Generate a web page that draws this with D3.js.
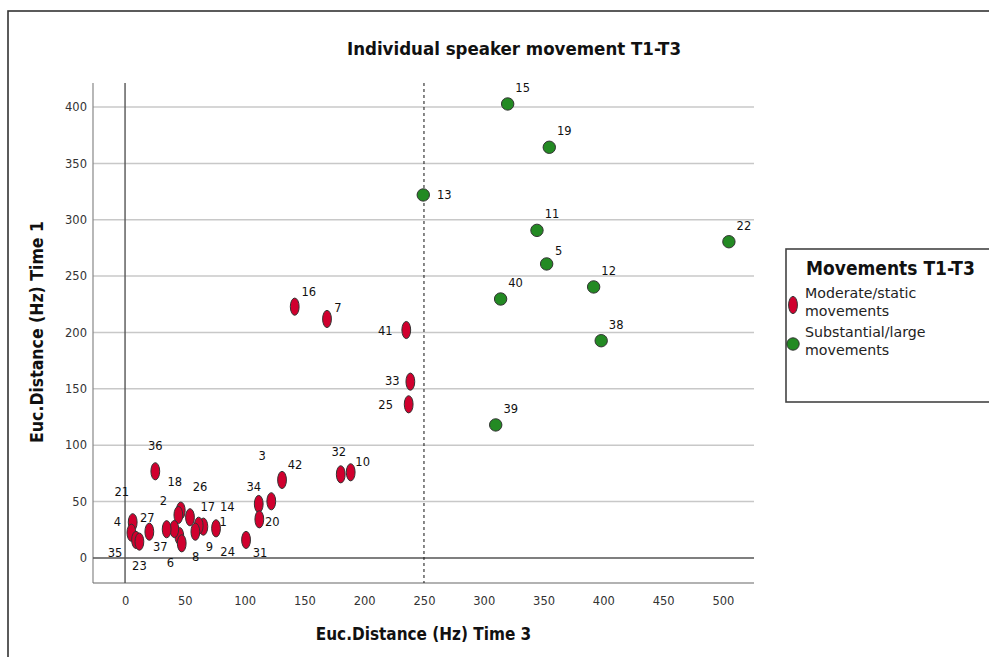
<!DOCTYPE html>
<html>
<head>
<meta charset="utf-8">
<script src="https://cdn.jsdelivr.net/npm/d3@7"></script>
<style>
  html, body { margin: 0; padding: 0; background: #fff; }
  svg { display: block; }
</style>
</head>
<body>
<svg id="chart" width="989" height="657"></svg>
<script>
// ---- data ----
const speakerIds = [15, 19, 13, 11, 22, 5, 12, 40, 38, 39,
  16, 7, 41, 33, 25, 32, 10,
  36, 42, 3, 34, 20, 31, 1, 14, 17, 9, 26, 18, 2, 6, 8, 37, 24, 27, 21, 4, 35, 23];
const distTime3 = [320, 354.8, 249.4, 344.5, 505, 352.6, 391.9, 314.1, 398.2, 310,
  141.9, 168.9, 235.2, 238.6, 237.2, 180.4, 188.7,
  25.3, 131.3, 122.3, 111.8, 112.3, 101.2, 76.1, 65.5, 61.6, 58.8, 54.3, 46.6, 44.6, 45.4, 47.4, 41.2, 34.8, 20.3, 6.4, 5.3, 9.2, 12];
const distTime1 = [402.7, 364.3, 322, 290.6, 280.5, 260.8, 240.4, 229.7, 192.7, 118,
  222.9, 212, 202.2, 156.4, 136.3, 74.2, 76,
  76.9, 69.2, 50.3, 47.9, 34.3, 16, 26.3, 27.8, 28.6, 23.3, 36.1, 42, 38.1, 19.5, 13, 25.7, 25.5, 23.3, 31.7, 22.4, 16, 14.5];
const groupNames = ["Moderate/static movements", "Substantial/large movements"];
const groupOf = [1, 1, 1, 1, 1, 1, 1, 1, 1, 1,
  0, 0, 0, 0, 0, 0, 0,
  0, 0, 0, 0, 0, 0, 0, 0, 0, 0, 0, 0, 0, 0, 0, 0, 0, 0, 0, 0, 0, 0];
const xTicks = [0, 50, 100, 150, 200, 250, 300, 350, 400, 450, 500];
const yTicks = [0, 50, 100, 150, 200, 250, 300, 350, 400];
const cutoffTime3 = 250;

const chartTitle = "Individual speaker movement T1-T3";
const xTitle = "Euc.Distance (Hz) Time 3";
const yTitle = "Euc.Distance (Hz) Time 1";
const legendTitle = "Movements T1-T3";
const legendLines = [["Moderate/static", "movements"], ["Substantial/large", "movements"]];

// ---- layout / styles ----
const labelOffset = {  // pixel offset of label centre from marker
  13: [21, 0], 5: [12, -13],
  16: [14, -15], 7: [11, -11], 41: [-21, 1], 33: [-18, -1], 25: [-23, 1],
  32: [-2, -22], 10: [12, -10],
  36: [0, -25], 42: [13, -15], 3: [-9, -45], 34: [-5, -17], 20: [13, 3], 31: [14, 13],
  1: [7, -6], 14: [24, -20], 17: [9, -19], 9: [14, 15], 26: [10, -30], 18: [-6, -29],
  2: [-15, -14], 6: [-9, 27], 8: [14, 14], 37: [-14, 18], 24: [61, 23], 27: [-2, -14],
  21: [-11, -30], 4: [-14, -11], 35: [-21, 13], 23: [0, 24]
};
const defaultOffset = [15, -16];
const colors = ["#d0002e", "#238a23"];
const fontCond = "'DejaVu Sans Condensed', 'DejaVu Sans', sans-serif";
const fontReg = "'DejaVu Sans', sans-serif";

const svg = d3.select("#chart");
const plot = { left: 93, right: 754, top: 83, bottom: 583 };

const x = d3.scaleLinear().domain([-26.8, 526]).range([plot.left, plot.right]);
const y = d3.scaleLinear().domain([-22.2, 421.3]).range([plot.bottom, plot.top]);

// outer frame
svg.append("rect").attr("x", 8).attr("y", 11).attr("width", 1000).attr("height", 700)
  .attr("fill", "none").attr("stroke", "#333").attr("stroke-width", 1.6);

// title
svg.append("text").attr("x", 514).attr("y", 55).attr("text-anchor", "middle")
  .attr("font-family", fontCond).attr("font-weight", "bold").attr("font-size", 18.5)
  .attr("fill", "#111").text(chartTitle);

// gridlines
const g = svg.append("g");
g.selectAll("line.grid").data(yTicks.filter(d => d !== 0)).join("line")
  .attr("x1", plot.left).attr("x2", plot.right)
  .attr("y1", d => y(d)).attr("y2", d => y(d))
  .attr("stroke", "#c8c8c8").attr("stroke-width", 1.5);

// y axis tick labels via d3 axis
const yAxis = d3.axisLeft(y).tickValues(yTicks).tickSize(0).tickPadding(6);
const yg = svg.append("g").attr("transform", `translate(${plot.left},0)`).call(yAxis);
yg.select(".domain").remove();
yg.selectAll("text").attr("font-family", fontReg).attr("font-size", 11.5).attr("fill", "#333");

const xAxis = d3.axisBottom(x).tickValues(xTicks).tickSize(0).tickPadding(14);
const xg = svg.append("g").attr("transform", `translate(0,${plot.bottom})`).call(xAxis);
xg.select(".domain").remove();
xg.selectAll("text").attr("font-family", fontReg).attr("font-size", 11.5).attr("fill", "#333");

// frame left & bottom
svg.append("line").attr("x1", plot.left).attr("x2", plot.left).attr("y1", plot.top).attr("y2", plot.bottom)
  .attr("stroke", "#888").attr("stroke-width", 1.2);
svg.append("line").attr("x1", plot.left).attr("x2", plot.right).attr("y1", plot.bottom).attr("y2", plot.bottom)
  .attr("stroke", "#666").attr("stroke-width", 1.2);

// zero reference lines
svg.append("line").attr("x1", x(0)).attr("x2", x(0)).attr("y1", plot.top).attr("y2", plot.bottom)
  .attr("stroke", "#555").attr("stroke-width", 1.4);
svg.append("line").attr("x1", plot.left).attr("x2", plot.right).attr("y1", y(0)).attr("y2", y(0))
  .attr("stroke", "#555").attr("stroke-width", 1.4);

// cutoff dashed line
svg.append("line").attr("x1", x(cutoffTime3)).attr("x2", x(cutoffTime3)).attr("y1", plot.top).attr("y2", plot.bottom)
  .attr("stroke", "#111").attr("stroke-width", 1).attr("stroke-dasharray", "3,3");

// axis titles
svg.append("text").attr("x", (plot.left + plot.right) / 2).attr("y", 640).attr("text-anchor", "middle")
  .attr("font-family", fontCond).attr("font-weight", "bold").attr("font-size", 17)
  .attr("fill", "#111").text(xTitle);
svg.append("text").attr("transform", `translate(43,332) rotate(-90)`).attr("text-anchor", "middle")
  .attr("font-family", fontCond).attr("font-weight", "bold").attr("font-size", 17.5)
  .attr("fill", "#111").text(yTitle);

// points
const pts = speakerIds.map((id, i) => ({ id, t3: distTime3[i], t1: distTime1[i], grp: groupOf[i] }));
const mg = svg.append("g");
mg.selectAll("ellipse").data(pts.filter(p => p.grp === 0)).join("ellipse")
  .attr("cx", d => x(d.t3)).attr("cy", d => y(d.t1)).attr("rx", 4.4).attr("ry", 8.6)
  .attr("fill", colors[0]).attr("stroke", "#333").attr("stroke-width", 1);
mg.selectAll("circle").data(pts.filter(p => p.grp === 1)).join("circle")
  .attr("cx", d => x(d.t3)).attr("cy", d => y(d.t1)).attr("r", 6.2)
  .attr("fill", colors[1]).attr("stroke", "#333").attr("stroke-width", 1);

// labels
svg.append("g").selectAll("text").data(pts).join("text")
  .attr("x", d => x(d.t3) + (labelOffset[d.id] || defaultOffset)[0])
  .attr("y", d => y(d.t1) + (labelOffset[d.id] || defaultOffset)[1])
  .attr("dy", "0.35em").attr("text-anchor", "middle")
  .attr("font-family", fontReg).attr("font-size", 11.5).attr("fill", "#111")
  .text(d => d.id);

// legend
const lg = svg.append("g");
lg.append("rect").attr("x", 786).attr("y", 249).attr("width", 260).attr("height", 153)
  .attr("fill", "#fff").attr("stroke", "#444").attr("stroke-width", 1.6);
lg.append("text").attr("x", 806).attr("y", 275)
  .attr("font-family", fontCond).attr("font-weight", "bold").attr("font-size", 19)
  .attr("fill", "#111").text(legendTitle);
const itemY = [305, 344];
groupNames.forEach((name, i) => {
  if (i === 0) {
    lg.append("ellipse").attr("cx", 793).attr("cy", itemY[i]).attr("rx", 4.4).attr("ry", 8.6)
      .attr("fill", colors[0]).attr("stroke", "#333");
  } else {
    lg.append("circle").attr("cx", 793).attr("cy", itemY[i]).attr("r", 6.2)
      .attr("fill", colors[1]).attr("stroke", "#333");
  }
  const t = lg.append("text").attr("x", 805).attr("y", itemY[i] - 7)
    .attr("font-family", fontReg).attr("font-size", 14.2).attr("fill", "#222");
  legendLines[i].forEach((ln, j) => {
    t.append("tspan").attr("x", 805).attr("dy", j === 0 ? 0 : 18).text(ln);
  });
});
</script>
</body>
</html>
